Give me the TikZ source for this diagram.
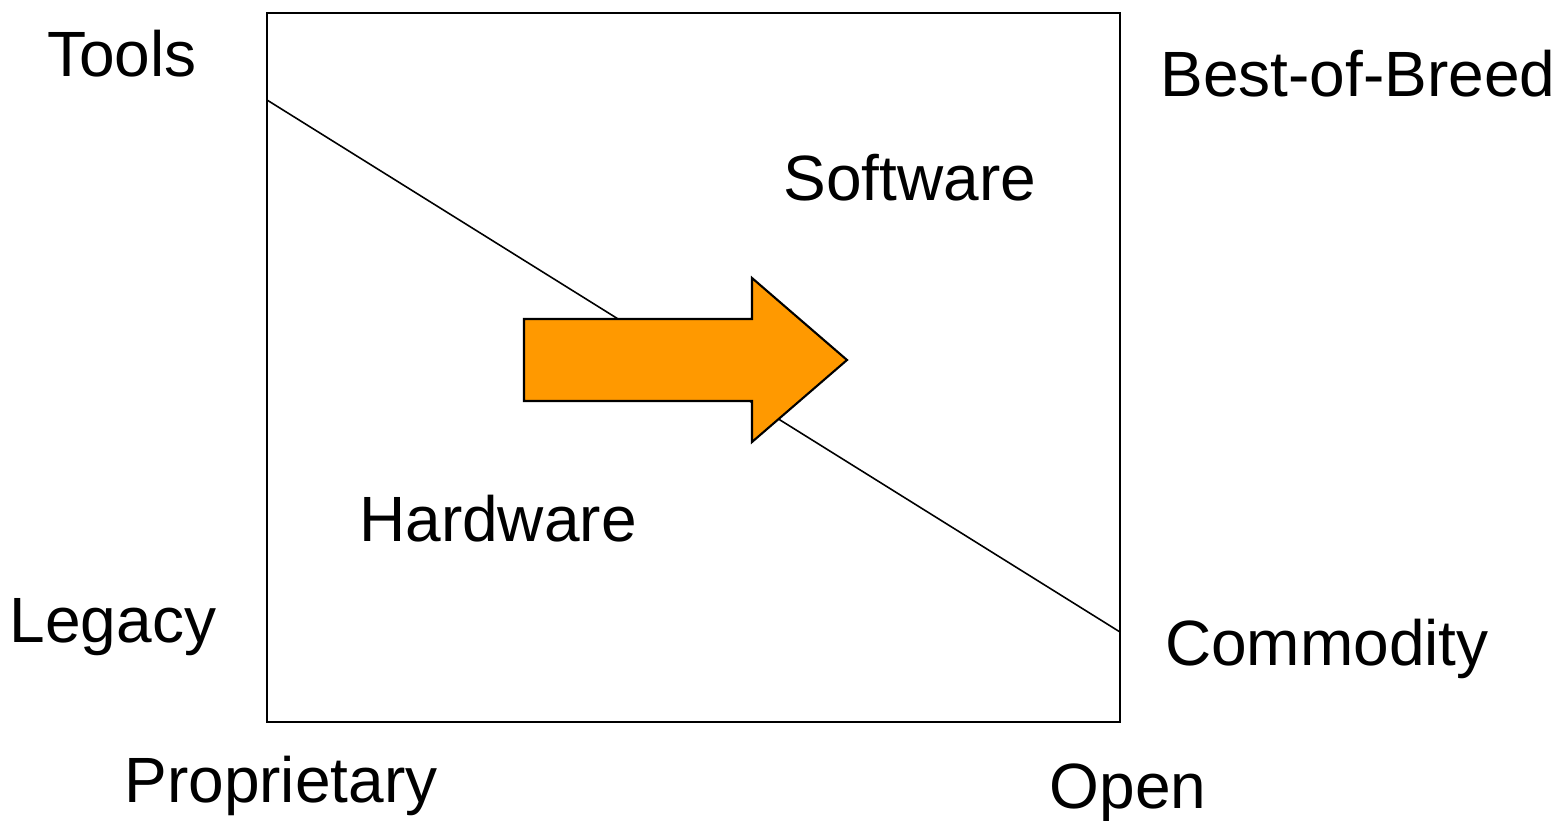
\documentclass[tikz,border=0pt]{standalone}
\usepackage{fontspec}
\setmainfont{Liberation Sans}
\usetikzlibrary{positioning}
\definecolor{arroworange}{HTML}{FF9900}
\tikzset{lbl/.style={anchor=base,inner sep=0pt,font=\fontsize{18.2}{21}\selectfont}}

\begin{document}
\begin{tikzpicture}[x=0.01cm,y=-0.01cm]
\useasboundingbox (0,0) rectangle (1557,821);
\draw[line width=0.6pt] (267,13) rectangle (1120,722);
\coordinate (hi) at (267,100);
\coordinate (lo) at (1120,632);
\draw[line width=0.45pt] (hi) -- (lo);

\filldraw[fill=arroworange,draw=black,line width=0.6pt] (524,319) -- (752,319) -- (752,278) -- (847,360) -- (752,442) -- (752,401) -- (524,401) -- cycle;

\node[lbl] (tools) at (122,77) {Tools};
\node[lbl] (best) at (1358,97) {Best-of-Breed};
\node[lbl] (soft) at (910,200) {Software};
\node[lbl] (hard) at (498,541) {Hardware};
\node[lbl] (legacy) at (113,642) {Legacy};
\node[lbl] (comm) at (1327,665) {Commodity};
\node[lbl] (prop) at (281,802) {Proprietary};
\node[lbl] (open) at (1128,808) {Open};

\end{tikzpicture}
\end{document}
